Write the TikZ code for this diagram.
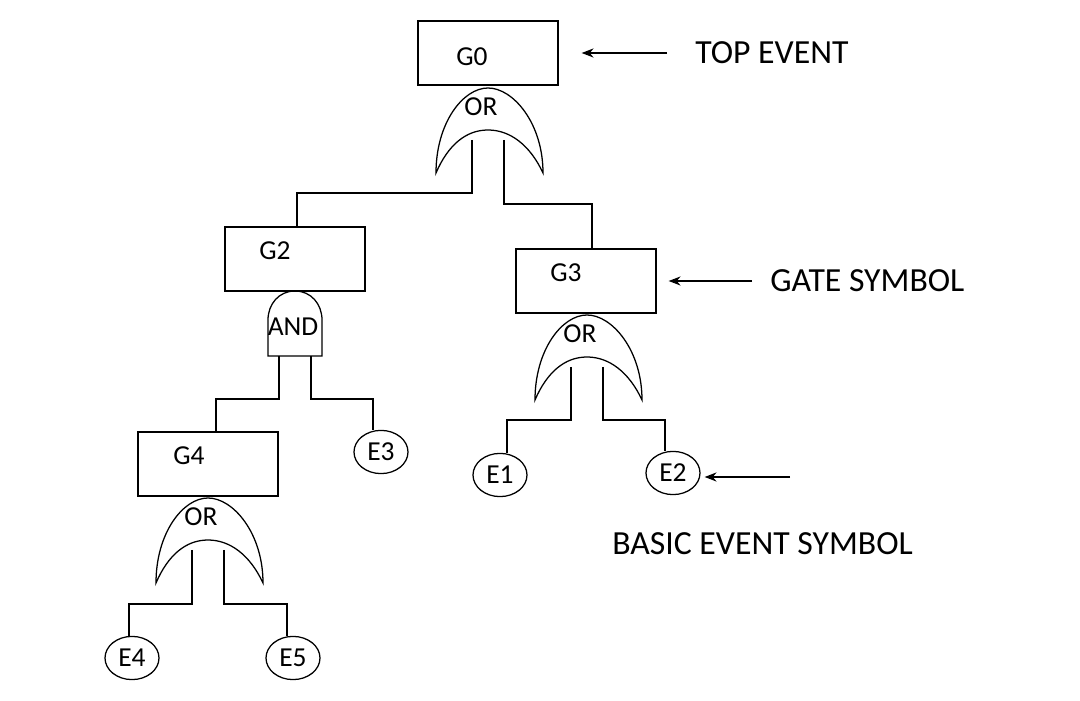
\documentclass[tikz,border=0pt]{standalone}
\usepackage{fontspec}
\setmainfont{Carlito}
\usetikzlibrary{shapes.geometric,arrows.meta}
\begin{document}
\begin{tikzpicture}[x=0.025cm,y=-0.025cm,line width=0.9pt]
        % Define styles
        \tikzset{
            gbox/.style={draw, minimum width=3.5cm, minimum height=1.6cm, inner sep=0pt},
            glabel/.style={font=\fontsize{19.5}{21}\selectfont},
            ebox/.style={draw, ellipse, minimum width=1.35cm, minimum height=1.08cm, inner sep=0pt, font=\fontsize{19.5}{21}\selectfont},
            note/.style={font=\fontsize{24}{26}\selectfont, anchor=west},
            pointer/.style={-{Stealth[length=8.5pt,width=6.5pt]}},
            orgate/.pic={
                \draw (-52,85) .. controls (-52,35) and (-25,0) .. (0,0)
                    .. controls (25,0) and (55,35) .. (55,85)
                    .. controls (42,57) and (22,42) .. (0,42)
                    .. controls (-22,42) and (-40,57) .. (-52,85) -- cycle;
                \node[glabel] at (-7,19) {OR};
                \coordinate (-in1) at (-16,52);
                \coordinate (-in2) at (16,52);
            },
            andgate/.pic={
                \draw (-27,65) -- (-27,29) .. controls (-27,13) and (-16,0) .. (0,0)
                    .. controls (16,0) and (27,13) .. (27,29) -- (27,65) -- cycle;
                \node[glabel] at (-2,36) {AND};
                \coordinate (-in1) at (-16,65);
                \coordinate (-in2) at (16,65);
            }
        }
        \useasboundingbox (0,0) rectangle (1080,701);
        % Draw the gate boxes
        \node[gbox] (g0) at (488,53) {};
        \node[glabel] (g0t) at ([shift={(-16,4)}]g0.center) {G0};
        \node[gbox] (g2) at (295,259) {};
        \node[glabel] (g2t) at ([shift={(-20,-8)}]g2.center) {G2};
        \node[gbox] (g3) at (586,281) {};
        \node[glabel] (g3t) at ([shift={(-20,-8)}]g3.center) {G3};
        \node[gbox] (g4) at (208,464) {};
        \node[glabel] (g4t) at ([shift={(-19,-8)}]g4.center) {G4};
        % Gates below the boxes
        \pic (g0or) at (488,88) {orgate};
        \pic (g2and) at (295,291) {andgate};
        \pic (g3or) at (587,315) {orgate};
        \pic (g4or) at (208,498) {orgate};
        % Basic events
        \node[ebox] (e1) at (500,475) {E1};
        \node[ebox] (e2) at (673,473) {E2};
        \node[ebox] (e3) at (381,452) {E3};
        \node[ebox] (e4) at (132,658) {E4};
        \node[ebox] (e5) at (293,658) {E5};
        % Connectors
        \draw (g0or-in1) -- ++(0,53) -| ([shift={(2,0)}]g2.north);
        \draw (g0or-in2) -- ++(0,64) -| ([shift={(6,0)}]g3.north);
        \draw (g2and-in1) -- ++(0,43) -| ([shift={(8,0)}]g4.north);
        \draw (g2and-in2) -- ++(0,43) -| ([shift={(-8,0)}]e3.north);
        \draw (g3or-in1) -- ++(0,53) -| ([shift={(7,0)}]e1.north);
        \draw (g3or-in2) -- ++(0,53) -| ([shift={(-8,0)}]e2.north);
        \draw (g4or-in1) -- ++(0,54) -| ([shift={(-3,0)}]e4.north);
        \draw (g4or-in2) -- ++(0,54) -| ([shift={(-6,0)}]e5.north);
        % Notes with arrows
        \node[note] (top) at (690,53) {TOP EVENT};
        \draw[pointer] ([shift={(-23,0)}]top.west) -- ([shift={(23,0)}]g0.east);
        \node[note] (gsym) at (765,281) {GATE SYMBOL};
        \draw[pointer] ([shift={(-13,0)}]gsym.west) -- ([shift={(12,0)}]g3.east);
        \node[note] (bsym) at (607,544) {BASIC EVENT SYMBOL};
        \coordinate (bend) at (790,477);
        \draw[pointer] (bend) -- ([shift={(4,4)}]e2.east);
\end{tikzpicture}
\end{document}
